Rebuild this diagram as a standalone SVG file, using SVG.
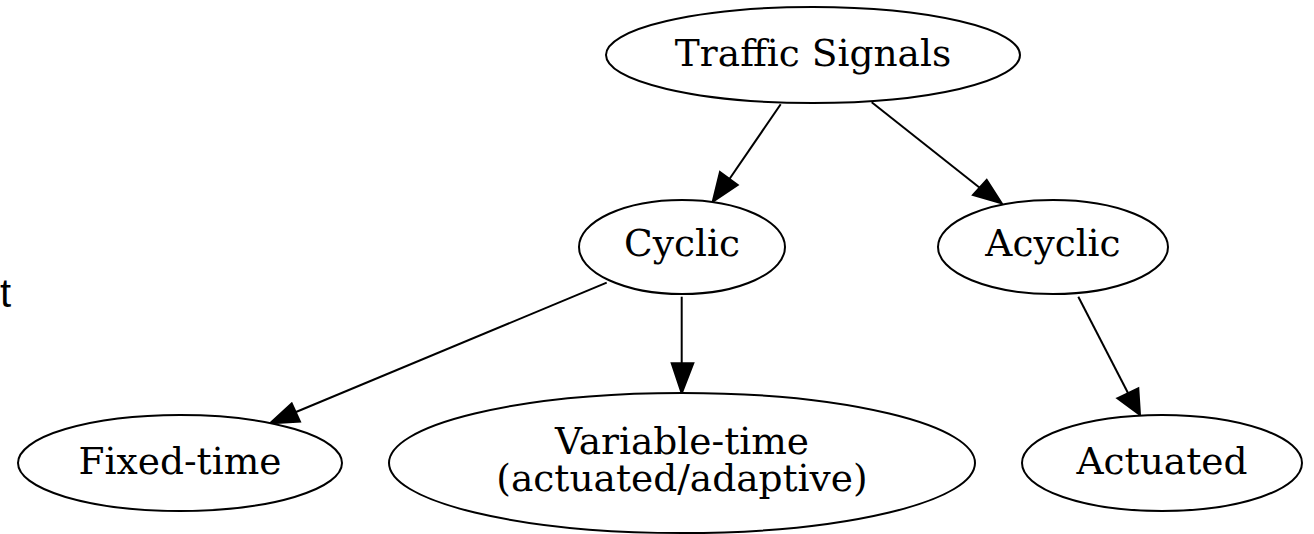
<svg xmlns="http://www.w3.org/2000/svg" width="1314" height="534" viewBox="0 0 1314 534">
<style>
.node ellipse{fill:#fff;stroke:#000;stroke-width:2}
.node text{font-family:"DejaVu Serif",serif;font-size:37.5px;fill:#000;text-anchor:middle}
.edge path{fill:none;stroke:#000;stroke-width:2}
.edge polygon{fill:#000;stroke:#000;stroke-width:2}
</style>
<rect width="1314" height="534" fill="#fff"/>
<text x="0" y="307" font-family="'Liberation Sans',Arial,sans-serif" font-size="40" fill="#000">t</text>
<g id="edges">
<g class="edge" id="e_traffic_cyclic"><path d="M780.7,104.3L726,184"/><polygon points="720,172 737.7,185 712.7,201.7"/></g>
<g class="edge" id="e_traffic_acyclic"><path d="M871.7,102.3L980,188"/><polygon points="973,195 986.7,180 1001.7,203.3"/></g>
<g class="edge" id="e_cyclic_fixed"><path d="M606.7,282.7L296,412"/><polygon points="291.7,403.3 300,421.7 270,423.3"/></g>
<g class="edge" id="e_cyclic_variable"><path d="M681.7,296.7L681.7,364"/><polygon points="671.7,363.3 693.3,363.3 681.7,393.3"/></g>
<g class="edge" id="e_acyclic_actuated"><path d="M1078.3,296.7L1128,393"/><polygon points="1117.3,398.3 1138.3,388.3 1140,415"/></g>
</g>
<g class="node" id="traffic"><ellipse cx="813" cy="55" rx="207" ry="48"/><text x="813" y="66">Traffic Signals</text></g>
<g class="node" id="cyclic"><ellipse cx="682" cy="247" rx="103" ry="47"/><text x="682" y="256">Cyclic</text></g>
<g class="node" id="acyclic"><ellipse cx="1053" cy="247" rx="115" ry="47"/><text x="1053" y="256">Acyclic</text></g>
<g class="node" id="fixed"><ellipse cx="180" cy="463" rx="162" ry="48"/><text x="180" y="474">Fixed-time</text></g>
<g class="node" id="variable"><ellipse cx="682" cy="463" rx="293" ry="70"/><text x="682" y="454">Variable-time</text><text x="682" y="491">(actuated/adaptive)</text></g>
<g class="node" id="actuated"><ellipse cx="1162" cy="463" rx="140" ry="48"/><text x="1162" y="474">Actuated</text></g>
</svg>
